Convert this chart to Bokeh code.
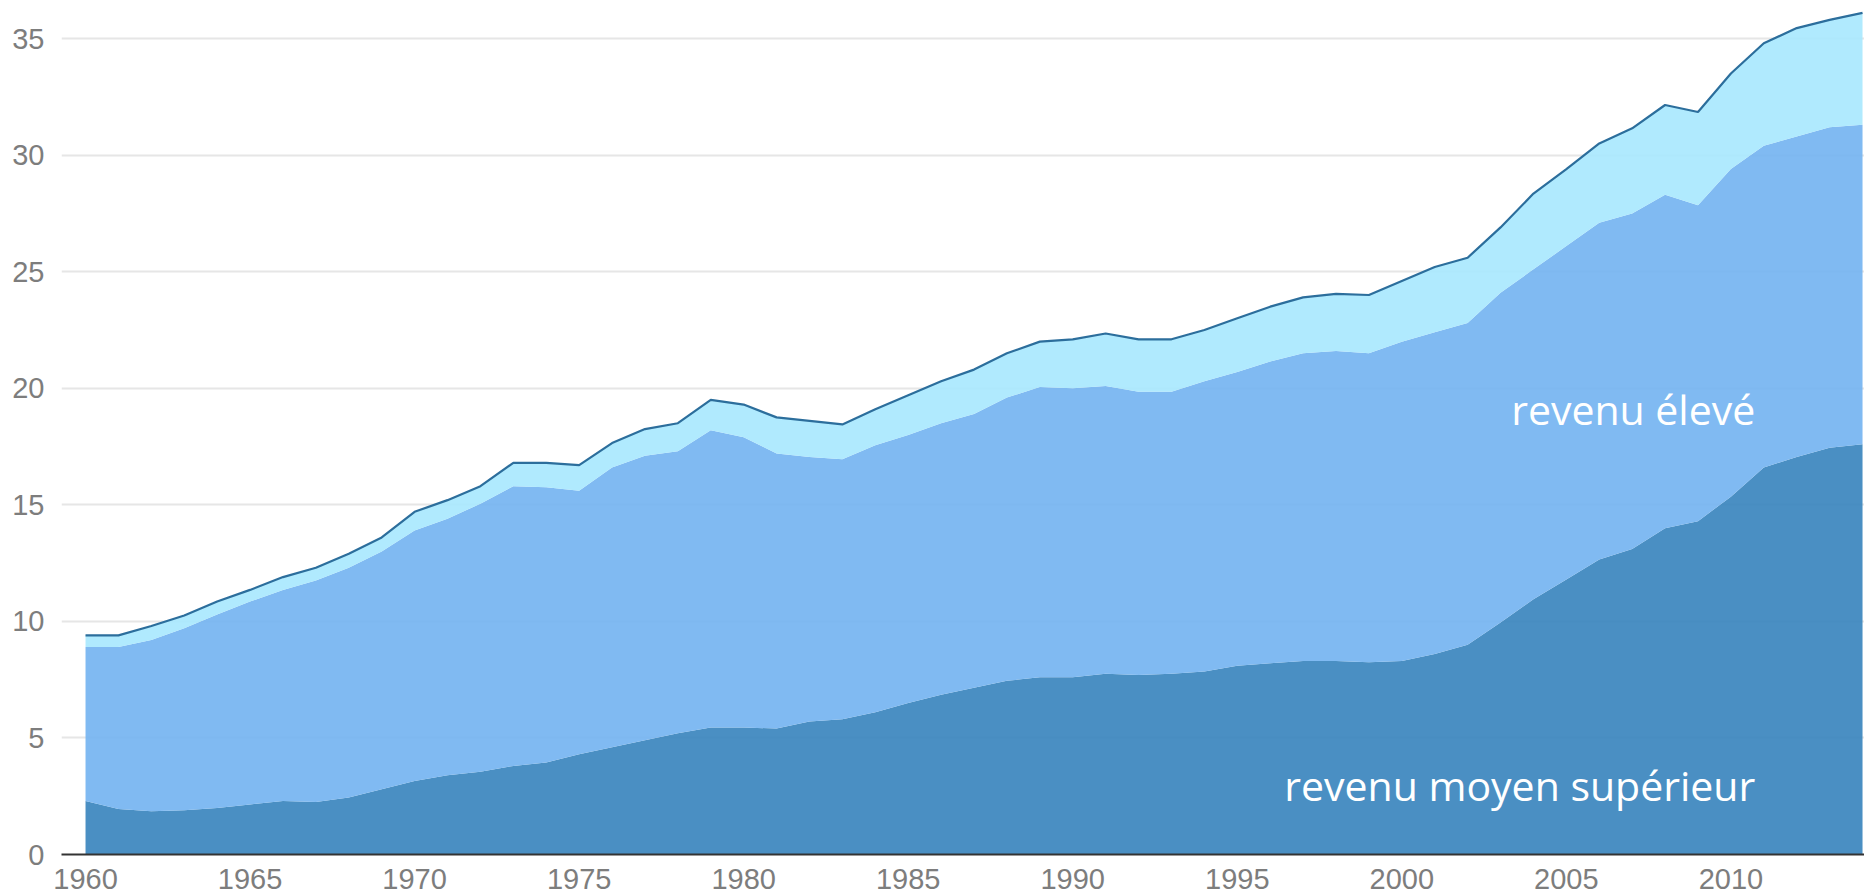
import numpy as np
from bokeh.plotting import figure
from bokeh.models import ColumnDataSource, Range1d, FixedTicker, Label
from bokeh.embed import file_html
from bokeh.resources import INLINE

# ---- data ----
years = list(range(1960, 2015))

revenu_moyen_superieur = [
    2.3, 1.95, 1.85, 1.9, 2.0, 2.15, 2.3, 2.25, 2.45, 2.8,
    3.15, 3.4, 3.55, 3.8, 3.95, 4.3, 4.6, 4.9, 5.2, 5.45,
    5.45, 5.4, 5.7, 5.8, 6.1, 6.5, 6.85, 7.15, 7.45, 7.6,
    7.6, 7.75, 7.7, 7.75, 7.85, 8.1, 8.2, 8.3, 8.3, 8.25,
    8.3, 8.6, 9.0, 9.95, 10.95, 11.8, 12.65, 13.1, 14.0, 14.3,
    15.35, 16.6, 17.05, 17.45, 17.6,
]

revenu_eleve = [
    6.6, 6.95, 7.35, 7.8, 8.3, 8.7, 9.05, 9.5, 9.85, 10.2,
    10.75, 11.0, 11.5, 12.0, 11.8, 11.3, 12.0, 12.2, 12.1, 12.75,
    12.45, 11.8, 11.35, 11.15, 11.45, 11.5, 11.65, 11.75, 12.15, 12.45,
    12.4, 12.35, 12.15, 12.1, 12.45, 12.6, 12.95, 13.2, 13.3, 13.25,
    13.7, 13.8, 13.8, 14.15, 14.15, 14.3, 14.45, 14.4, 14.3, 13.55,
    14.05, 13.8, 13.75, 13.75, 13.7,
]

autres = [
    0.5, 0.5, 0.6, 0.55, 0.55, 0.5, 0.55, 0.55, 0.6, 0.6,
    0.8, 0.8, 0.75, 1.0, 1.05, 1.1, 1.05, 1.15, 1.2, 1.3,
    1.4, 1.55, 1.55, 1.5, 1.55, 1.7, 1.8, 1.9, 1.9, 1.95,
    2.1, 2.25, 2.25, 2.25, 2.2, 2.3, 2.35, 2.4, 2.45, 2.5,
    2.6, 2.8, 2.8, 2.8, 3.25, 3.3, 3.4, 3.65, 3.85, 4.0,
    4.1, 4.4, 4.65, 4.6, 4.8,
]

y_ticks = [0, 5, 10, 15, 20, 25, 30, 35]
x_ticks = [1960, 1965, 1970, 1975, 1980, 1985, 1990, 1995, 2000, 2005, 2010]

label_eleve = "revenu élevé"
label_moyen = "revenu moyen supérieur"

# ---- build ----
total = np.array(revenu_moyen_superieur) + np.array(revenu_eleve) + np.array(autres)
source = ColumnDataSource(dict(
    year=years,
    sup=revenu_moyen_superieur,
    eleve=revenu_eleve,
    autres=autres,
    total=total,
))

p = figure(
    width=1864, height=895,
    x_range=Range1d(1959.27, 2014.06),
    y_range=Range1d(0, 36.29),
    output_backend="svg", toolbar_location=None,
    min_border_left=61, min_border_right=0, min_border_top=8, min_border_bottom=41,
)
p.outline_line_color = None
p.background_fill_color = "white"

p.varea_stack(
    stackers=["sup", "eleve", "autres"], x="year", source=source,
    color=["#3683bd", "#72b2f1", "#a7e8fe"], fill_alpha=0.9,
)
p.line("year", "total", source=source, line_color="#2c6e9c", line_width=2.2)

# axes
p.xgrid.visible = False
p.ygrid.grid_line_color = "#e6e6e6"
p.ygrid.grid_line_width = 2

p.yaxis.ticker = FixedTicker(ticks=y_ticks)
p.yaxis.axis_line_color = None
p.yaxis.major_tick_line_color = None
p.yaxis.minor_tick_line_color = None
p.yaxis.major_label_standoff = 11
p.yaxis.major_label_text_font = "Liberation Sans"
p.yaxis.major_label_text_font_size = "29px"
p.yaxis.major_label_text_color = "#7d7d7d"

p.xaxis.ticker = FixedTicker(ticks=x_ticks)
p.xaxis.axis_line_color = "#333333"
p.xaxis.axis_line_width = 2
p.xaxis.major_tick_line_color = None
p.xaxis.minor_tick_line_color = None
p.xaxis.major_label_standoff = 8
p.xaxis.major_label_text_font = "Liberation Sans"
p.xaxis.major_label_text_font_size = "29px"
p.xaxis.major_label_text_color = "#7d7d7d"

for txt, ypos in ((label_eleve, 19.1), (label_moyen, 2.97)):
    p.add_layout(Label(
        x=2010.74, y=ypos, text=txt, text_align="right", text_baseline="alphabetic",
        text_font="Open Sans", text_font_size="41px", text_color="white",
    ))

open("out.html", "w").write(file_html(p, INLINE))
